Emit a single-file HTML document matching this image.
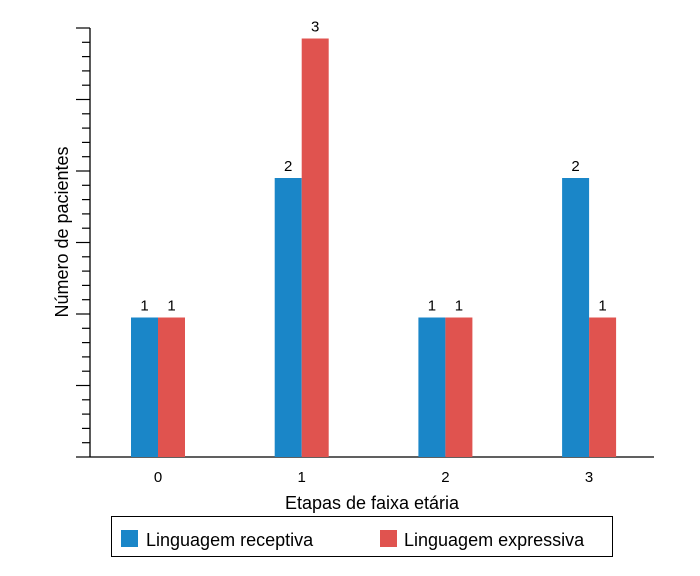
<!DOCTYPE html>
<html><head><meta charset="utf-8"><style>
body{margin:0;background:#fff;font-family:"Liberation Sans",sans-serif}
</style></head><body>
<svg width="700" height="571" viewBox="0 0 700 571" xmlns="http://www.w3.org/2000/svg" font-family="Liberation Sans, sans-serif">
<g id="ticks"></g>
<line x1="90" y1="28" x2="90" y2="457" stroke="#000" stroke-width="1.3"/>
<line x1="90" y1="457" x2="654" y2="457" stroke="#000" stroke-width="1.3"/>
<g id="bars"></g>
<text x="0" y="0" transform="translate(68,232) rotate(-90)" text-anchor="middle" font-size="18">Número de pacientes</text>
<text x="372" y="509" text-anchor="middle" font-size="18">Etapas de faixa etária</text>
<g>
<rect x="111.5" y="516.5" width="501" height="40" fill="#fff" stroke="#000" stroke-width="1"/>
<rect x="121" y="530" width="17" height="17" fill="#1a86c8"/>
<text x="146" y="546" font-size="18">Linguagem receptiva</text>
<rect x="380" y="530" width="17" height="17" fill="#e0534f"/>
<text x="404" y="546" font-size="18">Linguagem expressiva</text>
</g>
</svg>
<script>
const categories=["0","1","2","3"];
const receptiva=[1,2,1,2];
const expressiva=[1,3,1,1];
const NS="http://www.w3.org/2000/svg";
const base=457, unit=139.5, x0=158, step=143.7, bw=27;
const y=v=>base-v*unit;
const xc=i=>x0+i*step;
const bars=document.getElementById('bars');
function mk(tag,attrs){const e=document.createElementNS(NS,tag);for(const k in attrs)e.setAttribute(k,attrs[k]);return e;}
const series=[[receptiva,"#1a86c8",-1,"receptiva"],[expressiva,"#e0534f",0,"expressiva"]];
categories.forEach((c,i)=>{
  series.forEach(([arr,col,off,nm])=>{
    const bx=xc(i)+off*bw;
    const r=mk('rect',{x:bx,y:y(arr[i]),width:bw,height:arr[i]*unit,fill:col});
    
    
    bars.appendChild(r);
    const t=mk('text',{x:bx+bw/2,y:y(arr[i])-7,'text-anchor':'middle','font-size':'15'});
    t.textContent=arr[i];
    
    
    bars.appendChild(t);
  });
  const t=mk('text',{x:xc(i),y:482,'text-anchor':'middle','font-size':'15'});
  t.textContent=c;
  
  
  bars.appendChild(t);
});
const ticks=document.getElementById('ticks');
const tickStep=429/30;
for(let k=0;k<=30;k++){
  const ty=base-k*tickStep;
  const major=k%5===0;
  const l=mk('line',{x1:major?76:82,x2:90,y1:ty,y2:ty,stroke:'#000','stroke-width':1.2});
  
  
  ticks.appendChild(l);
}
</script>
</body></html>
